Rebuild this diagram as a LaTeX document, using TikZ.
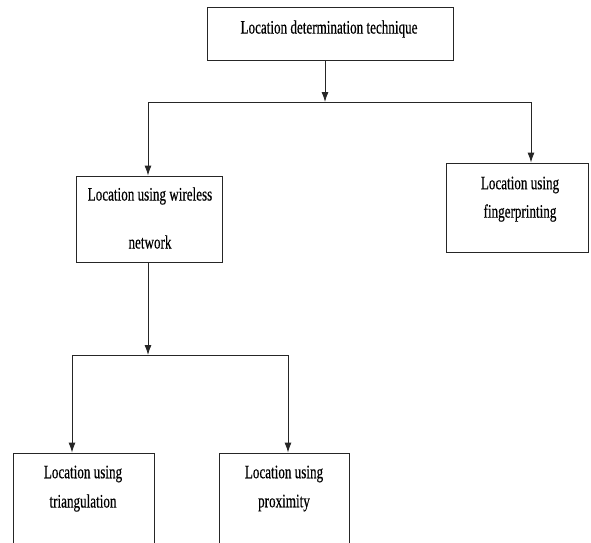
\documentclass[tikz,border=0pt]{standalone}
\usepackage{fontspec}
\setmainfont{Liberation Serif}[FakeStretch=0.69,FakeBold=0.4]
\usetikzlibrary{arrows.meta}
\begin{document}
\begin{tikzpicture}[x=1pt,y=-1pt,
  box/.style={draw=black!85, line width=0.9pt, rectangle, inner sep=0pt},
  lbl/.style={inner sep=0pt, font=\fontsize{19}{22}\selectfont, text=black},
  link/.style={draw=black!85, line width=0.9pt},
  arr/.style={link, -{Latex[length=10pt,width=7pt]}}]
\clip (0,0) rectangle (591,542);

% boxes
\node[box, minimum width=246pt, minimum height=53pt] (top) at (330,33.5) {};
\node[box, minimum width=146pt, minimum height=86pt] (wl) at (149,219) {};
\node[box, minimum width=142pt, minimum height=89pt] (fp) at (517,207.5) {};
\node[box, minimum width=141pt, minimum height=96pt] (tri) at (83.5,501) {};
\node[box, minimum width=130pt, minimum height=96pt] (prox) at (284,501) {};

% labels
\node[lbl] (topT) at (329,29) {Location determination technique};
\node[lbl] (wlT1) at (150,196) {Location using wireless};
\node[lbl] (wlT2) at (150,242) {network};
\node[lbl] (fpT1) at (520,185) {Location using};
\node[lbl] (fpT2) at (520,213) {fingerprinting};
\node[lbl] (triT1) at (83,474) {Location using};
\node[lbl] (triT2) at (83,503) {triangulation};
\node[lbl] (proxT1) at (284,474) {Location using};
\node[lbl] (proxT2) at (284,503) {proximity};

% first level branching
\coordinate (j1) at (325,102);
\coordinate (j1L) at (148,102);
\coordinate (j1R) at (531,102);
\draw[arr] (top.south -| j1) -- (j1);
\draw[link] (j1L) -- (j1R);
\draw[arr] (j1L) -- (j1L |- wl.north);
\draw[arr] (j1R) -- (j1R |- fp.north);

% second level branching
\coordinate (j2) at (148,355);
\coordinate (j2L) at (72,355);
\coordinate (j2R) at (288,355);
\draw[arr] (wl.south -| j2) -- (j2);
\draw[link] (j2L) -- (j2R);
\draw[arr] (j2L) -- (j2L |- tri.north);
\draw[arr] (j2R) -- (j2R |- prox.north);
\end{tikzpicture}
\end{document}
